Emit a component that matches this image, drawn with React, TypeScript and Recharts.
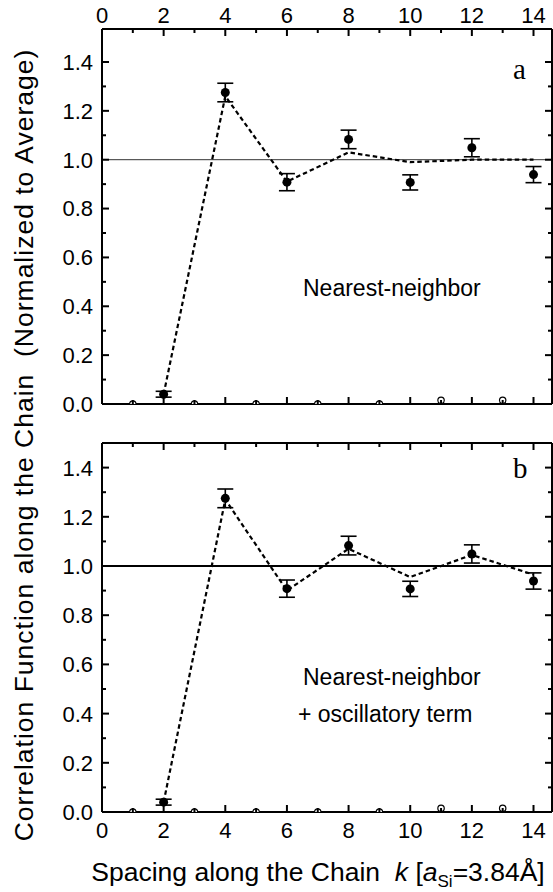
import React from 'react';
import { ComposedChart, Line, Scatter, ErrorBar, XAxis, YAxis, ReferenceLine } from 'recharts';

// measured correlation (filled dots) at even spacings
const spacing = [2, 4, 6, 8, 10, 12, 14];
const measured = [0.04, 1.275, 0.908, 1.083, 0.907, 1.049, 0.939];
const measuredErr = [0.012, 0.038, 0.035, 0.038, 0.031, 0.037, 0.033];

// open markers at odd spacings
const oddSpacing = [1, 3, 5, 7, 9, 11, 13];
const oddValues = [0, 0, 0, 0, 0, 0.015, 0.015];

// model curves (dashed)
const fitNearest = [0.04, 1.26, 0.91, 1.03, 0.99, 1.0, 1.0];
const fitOscillatory = [0.04, 1.27, 0.9, 1.07, 0.955, 1.045, 0.965];

const xTicks = [0, 1, 2, 3, 4, 5, 6, 7, 8, 9, 10, 11, 12, 13, 14];
const yTicks = [0, 0.1, 0.2, 0.3, 0.4, 0.5, 0.6, 0.7, 0.8, 0.9, 1.0, 1.1, 1.2, 1.3, 1.4];

const measuredData = spacing.map((k, i) => ({ k, v: measured[i], err: measuredErr[i] }));
const openData = oddSpacing.map((k, i) => ({ k, v: oddValues[i] }));
const fitA = spacing.map((k, i) => ({ k, v: fitNearest[i] }));
const fitB = spacing.map((k, i) => ({ k, v: fitOscillatory[i] }));

const FONT = '"Liberation Sans", Arial, sans-serif';
const SERIF = '"Liberation Serif", "Times New Roman", serif';
const M = 10;
const axisStyle = { stroke: '#000', strokeWidth: 2 };

function xTick(side: 'top' | 'bottom', showLabels: boolean) {
  return (props: any) => {
    const { x, y, payload } = props;
    const v = payload.value;
    const major = Math.round(v) % 2 === 0;
    const len = major ? 7 : 4;
    const axisY = side === 'top' ? y + M : y - M;
    const dir = side === 'top' ? 1 : -1;
    return (
      <g>
        <line x1={x} x2={x} y1={axisY} y2={axisY + dir * len} stroke="#000" strokeWidth={2} />
        {showLabels && major && (
          <text x={x} y={side === 'top' ? axisY - 6 : axisY + 26} textAnchor="middle" fontSize={22} fontFamily={FONT} fill="#000">
            {v}
          </text>
        )}
      </g>
    );
  };
}

function yTick(side: 'left' | 'right', showLabels: boolean) {
  return (props: any) => {
    const { x, y, payload } = props;
    const v = payload.value;
    const major = Math.round(v * 10) % 2 === 0;
    const len = major ? 7 : 4;
    const axisX = side === 'left' ? x + M : x - M;
    const dir = side === 'left' ? 1 : -1;
    return (
      <g>
        <line x1={axisX} x2={axisX + dir * len} y1={y} y2={y} stroke="#000" strokeWidth={2} />
        {showLabels && major && (
          <text x={axisX - 9} y={y} dy="0.36em" textAnchor="end" fontSize={22} fontFamily={FONT} fill="#000">
            {v.toFixed(1)}
          </text>
        )}
      </g>
    );
  };
}

const dot = (p: any) => <circle cx={p.cx} cy={p.cy} r={4.5} fill="#000" />;
const openDot = (p: any) => {
  const r = 3.2;
  if (p.payload && p.payload.v === 0) {
    // sits on the axis: only the upper half shows
    return <path d={`M${p.cx - r},${p.cy} A${r},${r} 0 0 1 ${p.cx + r},${p.cy}`} fill="#fff" stroke="#000" strokeWidth={1.2} />;
  }
  return <circle cx={p.cx} cy={p.cy} r={r} fill="#fff" stroke="#000" strokeWidth={1.2} />;
};

function Panel({ top, height, topH, bottomH, yMax, topLabels, fit, refWidth, refColor }: any) {
  return (
    <div style={{ position: 'absolute', left: 0, top }}>
      <ComposedChart width={553} height={height} margin={{ top: 0, right: 0, bottom: 0, left: 0 }}>
        <XAxis xAxisId="top" orientation="top" type="number" dataKey="k" domain={[0, 14.6]} ticks={xTicks} interval={0}
          height={topH} tickSize={0} tickMargin={M} tickLine={false} tick={xTick('top', topLabels)} axisLine={axisStyle} allowDataOverflow />
        <XAxis xAxisId="bottom" orientation="bottom" type="number" dataKey="k" domain={[0, 14.6]} ticks={xTicks} interval={0}
          height={bottomH} tickSize={0} tickMargin={M} tickLine={false} tick={xTick('bottom', !topLabels)} axisLine={axisStyle} allowDataOverflow />
        <YAxis yAxisId="left" type="number" dataKey="v" domain={[0, yMax]} ticks={yTicks} interval={0} width={102}
          tickSize={0} tickMargin={M} tickLine={false} tick={yTick('left', true)} axisLine={axisStyle} allowDataOverflow />
        <YAxis yAxisId="right" orientation="right" type="number" dataKey="v" domain={[0, yMax]} ticks={yTicks} interval={0} width={1}
          tickSize={0} tickMargin={M} tickLine={false} tick={yTick('right', false)} axisLine={axisStyle} allowDataOverflow />
        <ReferenceLine xAxisId="bottom" yAxisId="left" y={1} stroke={refColor} strokeWidth={refWidth} />
        <Line xAxisId="bottom" yAxisId="left" data={fit} dataKey="v" type="linear" stroke="#000" strokeWidth={2.2}
          strokeDasharray="4.5 3" dot={false} activeDot={false} isAnimationActive={false} />
        <Scatter xAxisId="bottom" yAxisId="left" data={openData} dataKey="v" shape={openDot} isAnimationActive={false} />
        <Scatter xAxisId="bottom" yAxisId="left" data={measuredData} dataKey="v" shape={dot} isAnimationActive={false}>
          <ErrorBar dataKey="err" direction="y" width={8} stroke="#000" strokeWidth={1.6} isAnimationActive={false} />
        </Scatter>
      </ComposedChart>
    </div>
  );
}

const textStyle: React.CSSProperties = { position: 'absolute', fontFamily: FONT, fontSize: 23, color: '#000', whiteSpace: 'pre' };

export default function App() {
  return (
    <div style={{ position: 'absolute', left: 0, top: 0, width: 553, height: 892, background: '#fff' }}>
      <Panel top={0} height={420} topH={29} bottomH={16} yMax={1.535} topLabels={true} fit={fitA} refWidth={1} refColor="#333" />
      <Panel top={420} height={472} topH={23} bottomH={80} yMax={1.5} topLabels={false} fit={fitB} refWidth={2} refColor="#000" />

      <div style={{ ...textStyle, left: 513, top: 53, fontFamily: SERIF, fontSize: 29 }}>a</div>
      <div style={{ ...textStyle, left: 513, top: 452, fontFamily: SERIF, fontSize: 29 }}>b</div>
      <div style={{ ...textStyle, left: 303, top: 275 }}>Nearest-neighbor</div>
      <div style={{ ...textStyle, left: 303, top: 664 }}>Nearest-neighbor</div>
      <div style={{ ...textStyle, left: 298, top: 701 }}>+ oscillatory term</div>

      <div style={{ ...textStyle, left: 0, top: 857, width: 636, lineHeight: '30px', fontSize: 26.5, textAlign: 'center' }}>
        Spacing along the Chain  <i>k</i> [<i>a</i><span style={{ fontSize: 17, position: 'relative', top: 6 }}>Si</span>=3.84Å]
      </div>
      <div style={{ ...textStyle, left: 24 - 420, top: 445 - 15, width: 840, height: 30, lineHeight: '30px', fontSize: 26.5, letterSpacing: 1, textAlign: 'center', transform: 'rotate(-90deg)' }}>
        Correlation Function along the Chain  (Normalized to Average)
      </div>
    </div>
  );
}
